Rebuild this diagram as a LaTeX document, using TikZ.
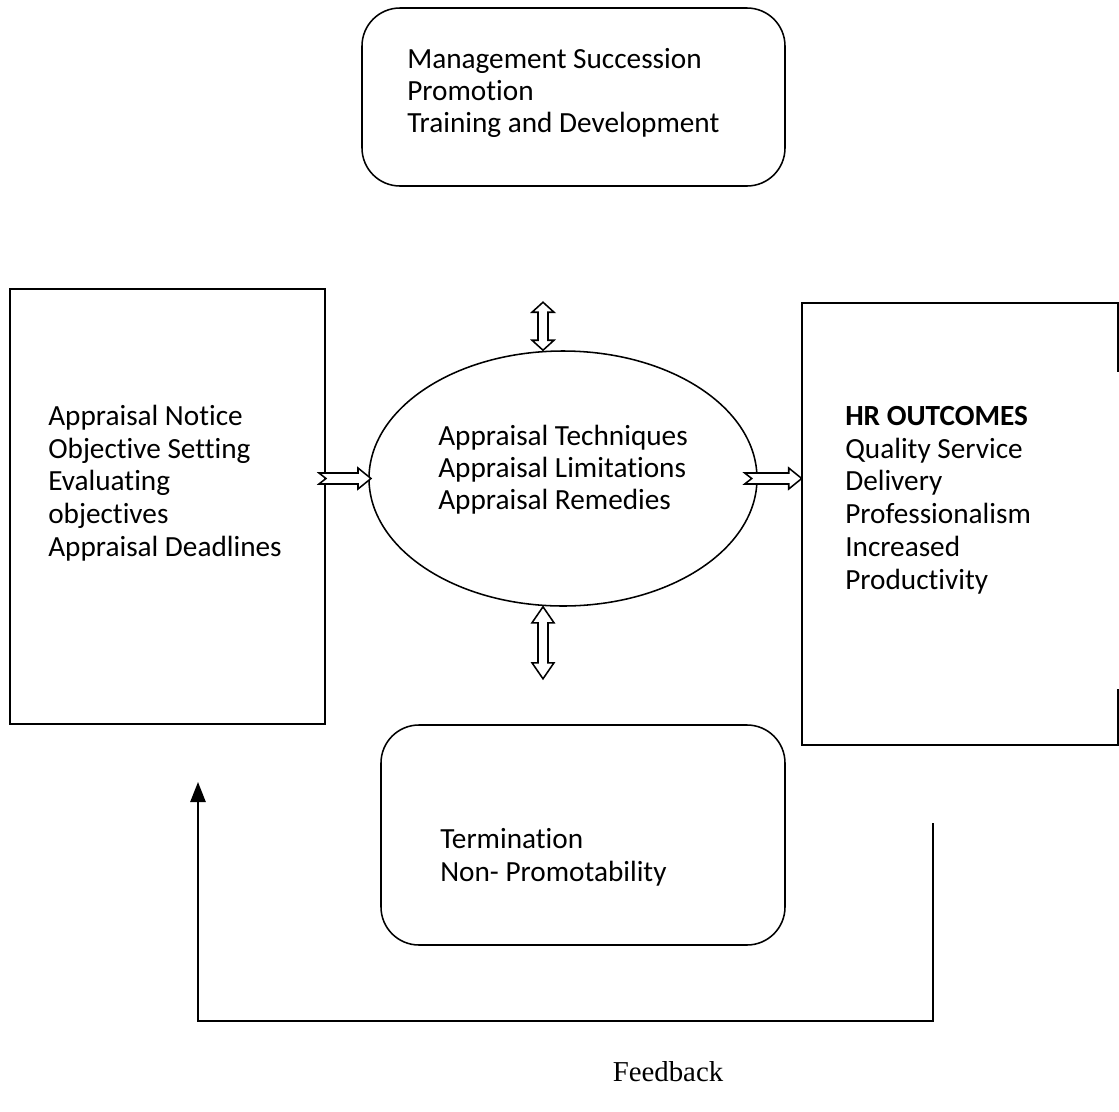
\documentclass[tikz,border=0pt]{standalone}
\usepackage{fontspec}
\setmainfont{Carlito}[Ligatures=NoCommon]
\newfontfamily\feedfont{Liberation Serif}
\usetikzlibrary{shapes.geometric,positioning,calc,arrows.meta}

\tikzset{
	sqbox/.style={draw,line width=1.4pt,inner sep=0pt},
	rndbox/.style={draw,line width=1.1pt,rounded corners=0.95cm,inner sep=0pt},
	ovalbox/.style={draw,ellipse,line width=1.1pt,inner sep=0pt},
	lbl/.style={anchor=base west,inner sep=0pt,font=\fontsize{20.8}{23}\selectfont},
	fbline/.style={line width=1.4pt},
	pics/notcharrow/.style={code={
		\draw[line width=1.1pt,fill=white] (0,-5.5) -- (#1-13,-5.5) -- (#1-13,-10.5) -- (#1,0)
			-- (#1-13,10.5) -- (#1-13,5.5) -- (0,5.5) -- (7,0) -- cycle;
	}},
	pics/updown/.style 2 args={code={
		\draw[line width=1.1pt,fill=white] (0,0) -- (11,#2) -- (5,#2) -- (5,#1-#2) -- (11,#1-#2)
			-- (0,#1) -- (-11,#1-#2) -- (-5,#1-#2) -- (-5,#2) -- (-11,#2) -- cycle;
	}}
}

\begin{document}
\begin{tikzpicture}[x=0.025cm,y=-0.025cm]
	\useasboundingbox (0,0) rectangle (1119,1112);
	% boxes
	\node[rndbox,minimum width=423*0.025cm,minimum height=178*0.025cm] (plans) at (573.5,97) {};
	\node[sqbox,minimum width=315*0.025cm,minimum height=435*0.025cm] (inputs) at (167.5,506.5) {};
	\node[ovalbox,minimum width=388*0.025cm,minimum height=255*0.025cm] (process) at (563,478.5) {};
	\node[inner sep=0pt,minimum width=316*0.025cm,minimum height=442*0.025cm] (outcomes) at (960,524) {};
		\draw[line width=1.4pt] ($(outcomes.north east)+(0,69)$) -- (outcomes.north east) -- (outcomes.north west)
			-- (outcomes.south west) -- (outcomes.south east) -- ++(0,-56);
	\node[rndbox,minimum width=404*0.025cm,minimum height=220*0.025cm] (exits) at (583,835) {};
	% texts
		\node[lbl] (p1) at (407,68) {Management Succession};
		\node[lbl] (p2) at (407,100) {Promotion};
		\node[lbl] (p3) at (407,132) {Training and Development};
		\node[lbl] (i1) at (48,425) {Appraisal Notice};
		\node[lbl] (i2) at (48,458) {Objective Setting};
		\node[lbl] (i3) at (48,490) {Evaluating};
		\node[lbl] (i4) at (48,523) {objectives};
		\node[lbl] (i5) at (48,556) {Appraisal Deadlines};
		\node[lbl] (m1) at (438,445) {Appraisal Techniques};
		\node[lbl] (m2) at (438,477) {Appraisal Limitations};
		\node[lbl] (m3) at (438,509) {Appraisal Remedies};
		\node[lbl,font=\fontsize{20.8}{23}\selectfont\bfseries] (o1) at (845,425) {HR OUTCOMES};
		\node[lbl] (o2) at (845,458) {Quality Service};
		\node[lbl] (o3) at (845,490) {Delivery};
		\node[lbl] (o4) at (845,523) {Professionalism};
		\node[lbl] (o5) at (845,556) {Increased};
		\node[lbl] (o6) at (845,589) {Productivity};
		\node[lbl] (e1) at (440,848) {Termination};
		\node[lbl] (e2) at (440,881) {Non- Promotability};
	% block arrows
	\pic at ($(inputs.east |- process.west)+(-7,0)$) {notcharrow=52};
	\pic at ($(outcomes.west |- process.east)+(-57,0)$) {notcharrow=57};
	\pic at ($(process.north)+(-20,-48)$) {updown={48}{10}};
	\pic at ($(process.south)+(-20,0)$) {updown={72}{16}};
	% feedback loop
	\coordinate (fbstart) at (933,823);
	\coordinate (fbbase) at (933,1021);
	\coordinate (fbend) at (198,782);
		\draw[fbline,-{Triangle[length=0.5cm,width=0.38cm]}] (fbstart) -- (fbbase) -- (fbend |- fbbase) -- (fbend);
		\node[font=\feedfont\fontsize{20.5}{23}\selectfont] (fb) at (668,1072) {Feedback};
\end{tikzpicture}
\end{document}
